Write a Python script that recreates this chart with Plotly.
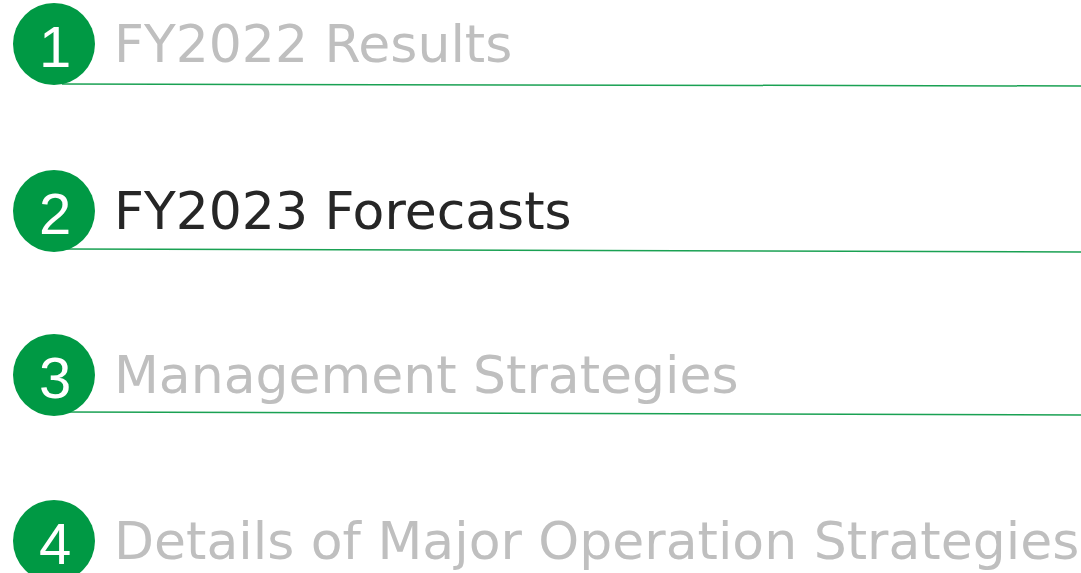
import plotly.graph_objects as go

numbers = ["1", "2", "3", "4"]
titles = ["FY2022 Results", "FY2023 Forecasts", "Management Strategies",
          "Details of Major Operation Strategies"]
active = [False, True, False, False]
row_y = [44, 211, 375, 541]
line_y_left = [84, 249, 412, None]
line_y_right = [86, 252, 415, None]

W, H = 1081, 573
GREEN = "#009944"
fig = go.Figure()
shapes = []
annotations = []
r = 41
cx = 54
for i, (n, t, a, y) in enumerate(zip(numbers, titles, active, row_y)):
    if line_y_left[i] is not None:
        shapes.append(dict(type="line", x0=62, x1=W, y0=line_y_left[i], y1=line_y_right[i],
                           xref="x", yref="y", line=dict(color="#1aa153", width=1.5)))
    shapes.append(dict(type="circle", x0=cx - r, x1=cx + r, y0=y - r, y1=y + r,
                       xref="x", yref="y", fillcolor=GREEN, line=dict(width=0)))
    annotations.append(dict(x=cx + 1, y=y + 2, text=n, showarrow=False, xref="x", yref="y",
                            font=dict(family="Liberation Sans, Arial", size=58, color="white"),
                            xanchor="center", yanchor="middle"))
    annotations.append(dict(x=112, y=y, text=t, showarrow=False, xref="x", yref="y",
                            font=dict(family="DejaVu Sans, Verdana", size=52,
                                      color="#262626" if a else "#bfbfbf"),
                            xanchor="left", yanchor="middle"))

fig.add_trace(go.Scatter(x=[0, W], y=[0, H], mode="markers", marker=dict(opacity=0),
                         hoverinfo="skip", showlegend=False))
fig.update_layout(width=W, height=H, margin=dict(l=0, r=0, t=0, b=0),
                  paper_bgcolor="white", plot_bgcolor="white",
                  shapes=shapes, annotations=annotations,
                  xaxis=dict(range=[0, W], visible=False, fixedrange=True),
                  yaxis=dict(range=[H, 0], visible=False, fixedrange=True),
                  showlegend=False)
fig.write_html("out.html", config={"displayModeBar": False},
               post_script="document.body.style.margin='0';document.body.style.overflow='hidden';")
